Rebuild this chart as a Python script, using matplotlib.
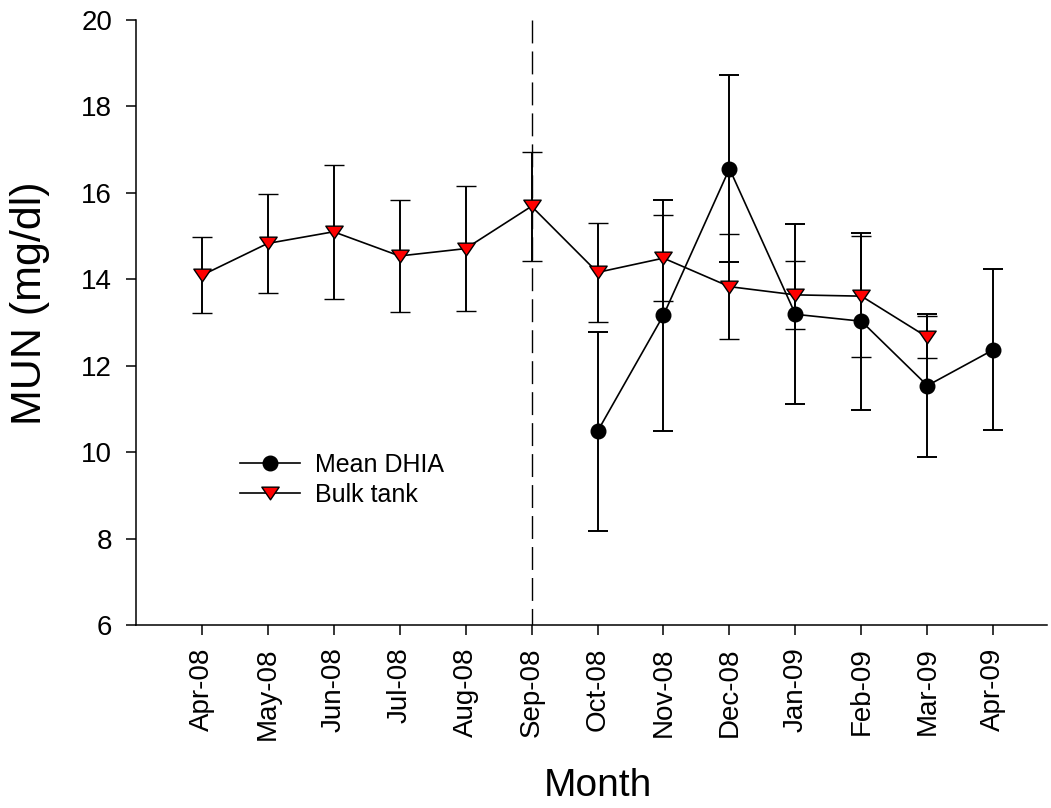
import numpy as np
import matplotlib
matplotlib.use('Agg')
from matplotlib import pyplot as plt
from matplotlib.path import Path

plt.rcParams['font.family'] = ['Liberation Sans', 'DejaVu Sans']

months = ['Apr-08', 'May-08', 'Jun-08', 'Jul-08', 'Aug-08', 'Sep-08', 'Oct-08',
          'Nov-08', 'Dec-08', 'Jan-09', 'Feb-09', 'Mar-09', 'Apr-09']

# Mean DHIA starts in Oct-08
dhia_months = ['Oct-08', 'Nov-08', 'Dec-08', 'Jan-09', 'Feb-09', 'Mar-09', 'Apr-09']
dhia_mean = [10.48, 13.17, 16.56, 13.19, 13.03, 11.54, 12.37]
dhia_err = [2.31, 2.67, 2.17, 2.08, 2.05, 1.65, 1.86]

# Bulk tank runs Apr-08 .. Mar-09
bulk_months = months[:12]
bulk_mean = [14.09, 14.83, 15.10, 14.54, 14.71, 15.69, 14.16, 14.49, 13.83, 13.64, 13.61, 12.66]
bulk_err = [0.88, 1.15, 1.55, 1.29, 1.45, 1.26, 1.14, 1.00, 1.22, 0.78, 1.40, 0.48]

marker_line = 'Sep-08'

x_of = {m: i for i, m in enumerate(months)}
x_dhia = [x_of[m] for m in dhia_months]
x_bulk = [x_of[m] for m in bulk_months]

# flattened down-triangle marker
tri = Path([(-1, 0.73), (1, 0.73), (0, -0.73), (-1, 0.73)],
           [Path.MOVETO, Path.LINETO, Path.LINETO, Path.CLOSEPOLY])

fig = plt.figure(figsize=(10.51, 8.08), dpi=100)
ax = fig.add_axes([0.1291, 0.2265, 0.8669, 0.7487])

ax.plot([x_of[marker_line]] * 2, [20, 6], color='black', lw=1.0,
        linestyle=(0, (16.5, 5.8)), zorder=1)

ax.errorbar(x_dhia, dhia_mean, yerr=dhia_err, color='black', lw=1.2,
            elinewidth=1.4, capsize=7, capthick=1.4, marker='o', ms=10.5,
            mfc='black', mec='black', label='Mean DHIA', zorder=3)
ax.errorbar(x_bulk, bulk_mean, yerr=bulk_err, color='black', lw=1.2,
            elinewidth=1.4, capsize=7, capthick=1.4, marker=tri, ms=12.5,
            mfc='red', mec='black', mew=1.0, label='Bulk tank', zorder=4)

ax.set_xlim(-1, 12.81)
ax.set_ylim(6, 20)
ax.set_yticks(np.arange(6, 21, 2))
ax.set_xticks(range(len(months)))
ax.set_xticklabels(months, rotation=90, fontsize=20)
ax.tick_params(axis='y', labelsize=20, pad=10)
ax.tick_params(axis='x', pad=9)
ax.tick_params(direction='out', length=7, width=1.1)

for s in ['top', 'right']:
    ax.spines[s].set_visible(False)
for s in ['left', 'bottom']:
    ax.spines[s].set_linewidth(1.1)

fig.text(30 / 1051, 1 - 303 / 808, 'MUN (mg/dl)', rotation=90,
         ha='center', va='center', fontsize=31)
fig.text(598 / 1051, 1 - 786 / 808, 'Month', ha='center', va='center', fontsize=28)

handles, labels = ax.get_legend_handles_labels()
handles = [h[0] for h in handles]
ax.legend(handles, labels, loc='upper left', bbox_to_anchor=(0.1145, 0.285),
          frameon=False, fontsize=18, borderpad=0, borderaxespad=0,
          handlelength=2.4, handletextpad=0.6, labelspacing=0.25)

fig.savefig('out.png', dpi=100)
